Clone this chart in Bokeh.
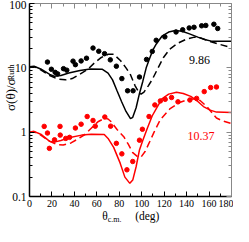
from bokeh.plotting import figure
from bokeh.models import Range1d, FixedTicker, LinearAxis, LogAxis, Label, CustomJSTickFormatter
from bokeh.embed import file_html
from bokeh.resources import INLINE

# ---------------- data ----------------
x_ticks = [0, 20, 40, 60, 80, 100, 120, 140, 160, 180]
x_minor = [10, 30, 50, 70, 90, 110, 130, 150, 170]
y_ticks = [0.1, 1, 10, 100]
y_minor = [0.2, 0.3, 0.4, 0.5, 0.6, 0.7, 0.8, 0.9,
           2, 3, 4, 5, 6, 7, 8, 9,
           20, 30, 40, 50, 60, 70, 80, 90]

# E = 9.86 (black)
b_pts_x = [16.0, 19.5, 22.9, 25.1, 30.3, 33.2, 38.8, 40.9, 46.0, 50.8, 56.6, 61.7,
           66.9, 72.0, 77.4, 82.3, 87.4, 92.3, 98.0, 104.3, 109.4, 112.9, 120.6,
           130.6, 136.5, 142.3, 146.6, 153.4, 157.1, 164.3, 167.7]
b_pts_y = [12.3, 9.5, 8.5, 8.05, 9.7, 9.2, 12.7, 11.2, 12.8, 14.1, 20.3, 18.1,
           16.6, 13.3, 10.6, 6.8, 4.4, 4.4, 7.2, 13.5, 18.0, 26.8, 30.3,
           36.1, 39.0, 41.7, 42.7, 45.0, 45.6, 47.6, 40.9]

b_sol_x = [0, 4, 10, 18, 22, 28, 35, 45, 54, 65, 70, 74, 78, 82, 86, 90, 92, 95,
           98, 101, 104, 107, 110, 113, 118, 124, 130, 136, 142, 150, 156, 162, 170, 180]
b_sol_y = [10.4, 10.6, 9.6, 7.9, 7.4, 7.6, 8.3, 9.1, 9.6, 9.5, 8.3, 6.5, 4.4, 3.0,
           2.1, 1.62, 1.7, 2.4, 4.0, 6.2, 10.0, 14.0, 19.0, 23.5, 31.0, 36.0, 38.0,
           37.0, 34.0, 30.0, 27.5, 26.0, 25.8, 26.0]

b_dash_x = [0, 5, 10, 18, 25, 32, 38, 45, 52, 58, 64, 70, 75, 81, 86, 90, 94, 97,
            99.4, 102, 106, 109.4, 114, 119.4, 125, 132, 140, 147, 153, 160, 168, 180]
b_dash_y = [10.4, 10.3, 9.3, 7.6, 6.7, 6.5, 6.8, 8.0, 9.5, 12.0, 14.5, 16.2, 16.3,
            13.0, 10.0, 7.8, 5.3, 4.3, 3.9, 4.2, 5.3, 6.6, 9.5, 14.5, 19.5, 24.0,
            28.0, 30.0, 29.0, 26.0, 23.5, 20.7]

# E = 10.37 (red)
r_pts_x = [13.1, 16.0, 17.7, 22.3, 27.2, 27.4, 32.3, 35.7, 40.9, 46.0, 51.4, 56.6,
           58.6, 67.1, 72.3, 77.4, 82.3, 86.8, 92.0, 98.0, 100.6, 106.5, 111.7,
           116.6, 120.9, 126.6, 132.3, 142.9, 148.9, 155.7, 161.4, 166.6]
r_pts_y = [1.23, 0.97, 0.56, 0.76, 1.23, 0.90, 0.80, 0.83, 1.16, 1.33, 1.75, 1.52,
           1.24, 1.72, 1.24, 0.67, 0.46, 0.26, 0.35, 0.75, 1.11, 1.75, 2.65,
           3.06, 3.24, 3.46, 2.96, 3.16, 3.35, 4.27, 4.93, 5.04]

r_sol_x = [0, 4, 10, 18, 22, 28, 35, 46.5, 55, 66.6, 70, 75, 80.8, 85, 89.4, 92, 95,
           98, 101, 105, 109.4, 114, 118, 124, 131, 137, 143.7, 150, 155, 161, 166.6, 180]
r_sol_y = [1.0, 1.03, 0.93, 0.72, 0.70, 0.74, 0.82, 0.90, 0.93, 0.92, 0.80, 0.58,
           0.33, 0.20, 0.16, 0.18, 0.29, 0.53, 0.75, 1.15, 1.8, 2.5, 3.3, 3.9, 4.17,
           4.0, 3.6, 3.0, 2.5, 2.2, 2.05, 2.03]

r_dash_x = [0, 5, 10, 18, 25, 30, 37, 44, 49.4, 55, 61, 67, 70, 72.3, 78, 84, 88,
            92, 96, 99.4, 103, 106.6, 111, 116.6, 125, 133.7, 140, 147, 152, 158,
            166.6, 172, 180]
r_dash_y = [1.0, 1.0, 0.9, 0.72, 0.64, 0.63, 0.68, 0.80, 0.92, 1.15, 1.45, 1.65,
            1.6, 1.48, 1.1, 0.85, 0.65, 0.48, 0.42, 0.41, 0.5, 0.68, 1.0, 1.57, 2.3,
            2.89, 3.15, 3.3, 3.1, 2.5, 1.66, 1.5, 1.36]

label_black = "9.86"
label_red = "10.37"
x_title = ["θ", "(deg)"]
x_title_sub = ["c.m."]
y_title = ["σ(θ)/σ"]
y_title_sub = ["Ruth"]

# ---------------- figure ----------------
SERIF = "Liberation Serif"
FW, FH = 210, 199   # expected frame size in px (used to place the axis titles)
p = figure(width=233, height=226, x_range=Range1d(0, 180), y_range=Range1d(0.1, 100),
           y_axis_type="log", output_backend="svg", toolbar_location=None,
           min_border_left=21, min_border_right=2, min_border_top=3, min_border_bottom=0)
p.grid.visible = False
p.outline_line_color = None
p.title.visible = False
p.background_fill_color = "white"
p.border_fill_color = "white"


def style(ax, color, lw, labels):
    ax.axis_line_color = color
    ax.axis_line_width = lw
    ax.major_tick_line_color = color
    ax.minor_tick_line_color = color
    ax.major_tick_in = 5
    ax.major_tick_out = 0
    ax.minor_tick_in = 3
    ax.minor_tick_out = 0
    ax.major_tick_line_width = 1
    ax.minor_tick_line_width = 1
    ax.axis_label = None
    ax.axis_label_standoff = 0
    if not labels:
        ax.major_label_text_font_size = "0px"
        ax.major_label_standoff = 0
        ax.major_label_text_alpha = 0


xa = p.xaxis[0]
xa.ticker = FixedTicker(ticks=x_ticks, minor_ticks=x_minor)
style(xa, "black", 1.5, True)
xa.major_label_text_font = SERIF
xa.major_label_text_font_size = "10px"
xa.major_label_standoff = 3
xa.major_label_text_color = "black"

ya = p.yaxis[0]
ya.ticker = FixedTicker(ticks=y_ticks, minor_ticks=y_minor)
style(ya, "black", 1.5, True)
ya.formatter = CustomJSTickFormatter(code="return tick < 0.99 ? tick.toFixed(1) : tick.toFixed(0);")
ya.major_label_text_font = SERIF
ya.major_label_text_font_size = "11.5px"
ya.major_label_standoff = 3
ya.major_label_text_color = "black"

top = LinearAxis(ticker=FixedTicker(ticks=x_ticks, minor_ticks=x_minor))
style(top, "#888888", 1, False)
p.add_layout(top, "above")
right = LogAxis(ticker=FixedTicker(ticks=y_ticks, minor_ticks=y_minor))
style(right, "#888888", 1, False)
p.add_layout(right, "right")


# ---- axis titles: drawn as tick labels of bare extra axes (no line, no ticks) ----
def px_x(dx):  # pixel offset from frame left -> data x
    return dx / FW * 180.0


def px_y(dy):  # pixel offset from frame bottom -> data y (log)
    return 10 ** (-1 + 3.0 * dy / FH)


def title_axis(cls, side, ticks, labels, size, standoff, orient="horizontal"):
    ax = cls(ticker=FixedTicker(ticks=ticks, minor_ticks=[]),
             formatter=CustomJSTickFormatter(args=dict(labels=labels), code="return labels[index];"))
    ax.axis_line_color = None
    ax.major_tick_line_color = None
    ax.minor_tick_line_color = None
    ax.major_tick_in = 0
    ax.major_tick_out = 0
    ax.minor_tick_in = 0
    ax.minor_tick_out = 0
    ax.axis_label = None
    ax.axis_label_standoff = 0
    ax.major_label_text_font = SERIF
    ax.major_label_text_font_size = size
    ax.major_label_text_color = "black"
    ax.major_label_standoff = standoff
    ax.major_label_orientation = orient
    p.add_layout(ax, side)
    return ax


title_axis(LinearAxis, "below", [px_x(78.5), px_x(122.5)], x_title, "11.5px", 0)
title_axis(LinearAxis, "below", [px_x(88.5)], x_title_sub, "8px", -10)

title_axis(LogAxis, "left", [px_y(128)], y_title_sub, "8px", -10, orient="vertical")
title_axis(LogAxis, "left", [px_y(105)], y_title, "13px", -14, orient="vertical")

# ---------------- curves and points ----------------
p.line(b_sol_x, b_sol_y, line_color="black", line_width=1.5)
p.line(b_dash_x, b_dash_y, line_color="black", line_width=1.5, line_dash="7 4")
p.line(r_sol_x, r_sol_y, line_color="red", line_width=1.5)
p.line(r_dash_x, r_dash_y, line_color="red", line_width=1.5, line_dash="7 4")
p.scatter(b_pts_x, b_pts_y, size=4.5, color="black")
p.scatter(r_pts_x, r_pts_y, size=4.5, color="red")

p.add_layout(Label(x=151.5, y=13.3, text=label_black, text_align="center", text_baseline="middle",
                   text_font=SERIF, text_font_size="12px", text_color="black"))
p.add_layout(Label(x=152.8, y=0.87, text=label_red, text_align="center", text_baseline="middle",
                   text_font=SERIF, text_font_size="12px", text_color="red"))

open("out.html", "w").write(file_html(p, INLINE))
